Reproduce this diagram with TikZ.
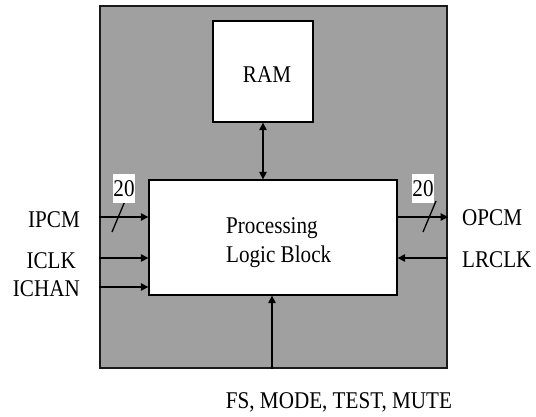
\documentclass[tikz,border=0pt]{standalone}
\usepackage{fontspec}
\setmainfont[FakeStretch=0.88]{Liberation Serif}
\usetikzlibrary{arrows.meta}

\definecolor{chipgray}{HTML}{A0A0A0}
\definecolor{edgeblack}{HTML}{1A1A1A}

\tikzset{
  chip/.style={draw=edgeblack, line width=2pt, fill=chipgray, inner sep=0pt},
  block/.style={draw=black, line width=1.3pt, fill=white, inner sep=0pt},
  sig/.style={line width=1.3pt, -{Triangle[length=7.5pt,width=7.5pt]}},
  bidir/.style={line width=1.3pt, {Triangle[length=7.5pt,width=7.5pt]}-{Triangle[length=7.5pt,width=7.5pt]}},
  txt/.style={inner sep=0pt, font=\fontsize{24}{28}\selectfont},
  buswidth/.style={fill=white, inner sep=0pt, minimum width=22pt, minimum height=29pt,
                   font=\fontsize{24}{28}\selectfont},
  tick/.style={line width=1.3pt}
}

\begin{document}
\begin{tikzpicture}[x=1pt, y=-1pt]
  \useasboundingbox (0,0) rectangle (536,416);

  % chip outline and internal blocks
  \node[chip, minimum width=347pt, minimum height=362pt] (chip) at (273.5,187) {};
  \node[block, minimum width=100pt, minimum height=101pt] (ram) at (263,71.5) {};
  \node[block, minimum width=248pt, minimum height=115pt] (proc) at (273,237.5) {};

  \node[txt, anchor=base] (ramtxt) at (267,82) {RAM};
  \node[txt, anchor=base west] (proc1) at (226,233) {Processing};
  \node[txt, anchor=base west] (proc2) at (226,262) {Logic Block};

  % signal levels
  \coordinate (yPCM)  at (0,217);
  \coordinate (yCLK)  at (0,258);
  \coordinate (yCHAN) at (0,287);
  \coordinate (xBus)  at (272,0);

  % inputs on the left
  \draw[sig] (chip.west |- yPCM)  -- (proc.west |- yPCM);
  \draw[sig] (chip.west |- yCLK)  -- (proc.west |- yCLK);
  \draw[sig] (chip.west |- yCHAN) -- (proc.west |- yCHAN);

  % outputs / inputs on the right
  \draw[sig] (proc.east |- yPCM) -- (chip.east |- yPCM);
  \draw[sig] (chip.east |- yCLK) -- (proc.east |- yCLK);

  % memory port and control bus
  \draw[bidir] (ram.south) -- (proc.north -| ram.south);
  \draw[sig] (chip.south -| xBus) -- (proc.south -| xBus);

  % bus width marks
  \draw[tick] (125,201) -- (112,232);
  \draw[tick] (436,201) -- (423,232);
  \node[buswidth] (win) at (124,188.5) {20};
  \node[buswidth] (wout) at (423,188.5) {20};

  % pin labels
  \node[txt, anchor=base east] (lIPCM)  at (80,227) {IPCM};
  \node[txt, anchor=base east] (lICLK)  at (76,268) {ICLK};
  \node[txt, anchor=base east] (lICHAN) at (80,296) {ICHAN};
  \node[txt, anchor=base west] (lOPCM)  at (462,225) {OPCM};
  \node[txt, anchor=base west] (lLRCLK) at (462,267) {LRCLK};
  \node[txt, anchor=base] (lctrl) at (339,408) {FS, MODE, TEST, MUTE};
\end{tikzpicture}
\end{document}
